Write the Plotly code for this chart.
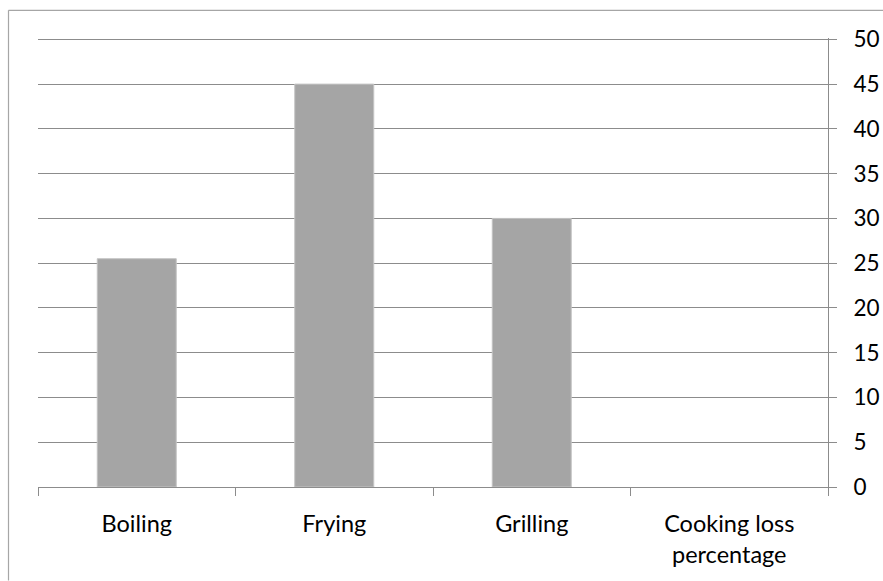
import plotly.graph_objects as go

# Cooking methods and their loss values
categories = ["Boiling", "Frying", "Grilling", "Cooking loss<br>percentage"]
values = [25.5, 45, 30, None]
y_ticks = [0, 5, 10, 15, 20, 25, 30, 35, 40, 45, 50]
y_top = 50.15  # a hair above the last tick so its gridline is drawn

W, H = 883, 581
PX_PER_UNIT = 8.96
L, R, B = 38, 55, 93.5
T = 39.5 - (y_top - 50) * PX_PER_UNIT

FONT = dict(family="Lato, Open Sans, sans-serif", size=23.5, color="#000000")
Y_FONT = dict(FONT, size=22.5)
GRID = "#8c8c8c"

fig = go.Figure()
fig.add_trace(go.Bar(
    x=categories,
    y=values,
    width=0.4,
    marker=dict(color="#a5a5a5", line=dict(color="#c4c4c4", width=1)),
    showlegend=False,
))


def px_to_paper_x(px):
    return (px - L) / (W - L - R)


def px_to_paper_y(py):
    return (H - B - py) / (H - T - B)


# outer chart border (left and top edges)
border = dict(type="line", xref="paper", yref="paper",
              line=dict(color="#a6a6a6", width=1.2))
fig.add_shape(**border, x0=px_to_paper_x(8.5), x1=px_to_paper_x(8.5),
              y0=px_to_paper_y(10.5), y1=px_to_paper_y(581))
fig.add_shape(**border, x0=px_to_paper_x(8.5), x1=px_to_paper_x(883),
              y0=px_to_paper_y(10.5), y1=px_to_paper_y(10.5))

fig.update_layout(
    width=W, height=H,
    margin=dict(l=L, r=R, t=T, b=B, pad=0, autoexpand=False),
    paper_bgcolor="white", plot_bgcolor="white",
    font=FONT,
    bargap=0.6,
    xaxis=dict(
        type="category",
        tickson="boundaries",
        ticks="outside", ticklen=8, tickcolor=GRID, tickwidth=1,
        showline=True, linecolor=GRID, linewidth=1,
        showgrid=False, zeroline=False,
        ticklabelstandoff=16,
        tickfont=FONT,
        automargin=False,
    ),
    yaxis=dict(
        side="right",
        range=[0, y_top],
        tickmode="array", tickvals=y_ticks,
        ticks="outside", ticklen=8, tickcolor=GRID, tickwidth=1,
        showline=True, linecolor=GRID, linewidth=1,
        showgrid=True, gridcolor=GRID, gridwidth=1,
        zeroline=False,
        ticklabelstandoff=12,
        tickfont=Y_FONT,
        automargin=False,
    ),
)

fig.write_html("out.html")
